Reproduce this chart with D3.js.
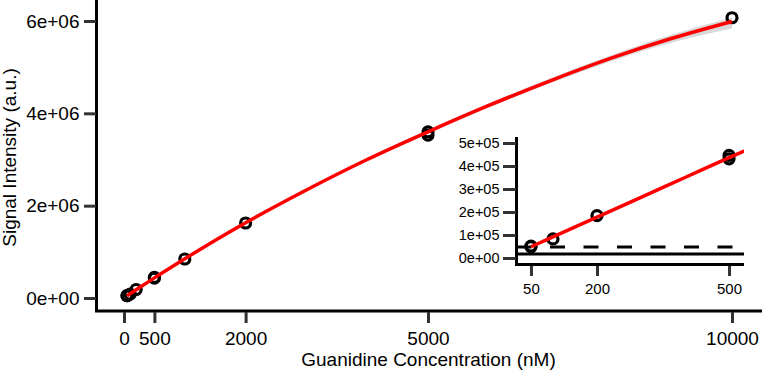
<!DOCTYPE html>
<html>
<head>
<meta charset="utf-8">
<script src="https://cdn.jsdelivr.net/npm/d3@7"></script>
<style>
body { margin: 0; background: #fff; }
text { font-family: "Liberation Sans", Arial, sans-serif; fill: #000; }
</style>
</head>
<body>
<div id="chart"></div>
<script>
// measured points (nM, a.u.)
const concX = [50, 50, 100, 200, 500, 500, 1000, 2000, 5000, 5000, 10000];
const signalY = [52000, 49000, 83000, 184000, 446000, 431000, 845000, 1625000, 3600000, 3530000, 6070000];

// fitted curve and its confidence band
const fitX = [50, 100, 200, 300, 400, 500, 600, 1000, 2000, 3000, 4000, 5000, 6000, 7000, 8000, 9000, 10000];
const fitY = [49000, 92000, 178000, 264000, 350000, 436000, 520000, 850000, 1630000, 2340000, 3000000, 3600000, 4170000, 4700000, 5190000, 5620000, 5990000];
const bandHi = [54000, 97000, 183000, 269000, 356000, 442000, 527000, 860000, 1650000, 2370000, 3035000, 3640000, 4215000, 4755000, 5255000, 5700000, 6075000];
const bandLo = [44000, 87000, 173000, 259000, 344000, 430000, 513000, 840000, 1610000, 2310000, 2965000, 3560000, 4125000, 4645000, 5125000, 5530000, 5840000];

const mainXTicks = [0, 500, 2000, 5000, 10000];
const mainYTicks = [0, 2e6, 4e6, 6e6];
const mainYLabels = ["0e+00", "2e+06", "4e+06", "6e+06"];

const insetXTicks = [50, 200, 500];
const insetYTicks = [0, 1e5, 2e5, 3e5, 4e5, 5e5];
const insetYLabels = ["0e+00", "1e+05", "2e+05", "3e+05", "4e+05", "5e+05"];
const blankLevel = 17000;
const lodLevel = 48000;

const width = 762, height = 371;

const svg = d3.select("#chart")
	.append("svg")
	.attr("width", width)
	.attr("height", height);

// ---- main panel ----
const x = d3.scaleLinear().domain([0, 10000]).range([124, 732]);
const y = d3.scaleLinear().domain([0, 6e6]).range([298, 21]);
const plot = {left: 96.5, right: 762, top: 0, bottom: 311};

const styleAxis = (g, size) => {
	g.select(".domain").remove();
	g.selectAll(".tick line").attr("stroke", "#333").attr("stroke-width", 3);
	g.selectAll(".tick text").attr("font-size", size).attr("font-family", "Liberation Sans, Arial, sans-serif").attr("fill", "#000");
};

const band = d3.area()
	.x((d, i) => x(fitX[i]))
	.y0((d, i) => y(bandLo[i]))
	.y1((d, i) => y(bandHi[i]))
	.curve(d3.curveMonotoneX);

svg.append("path")
	.datum(fitX)
	.attr("d", band)
	.attr("fill", "#d9d9d9");

svg.append("g")
	.selectAll("circle")
	.data(concX)
	.enter().append("circle")
	.attr("cx", (d, i) => x(d))
	.attr("cy", (d, i) => y(signalY[i]))
	.attr("r", 5)
	.attr("fill", "none")
	.attr("stroke", "#000")
	.attr("stroke-width", 3.2);

const line = d3.line()
	.x((d, i) => x(fitX[i]))
	.y((d, i) => y(fitY[i]))
	.curve(d3.curveMonotoneX);

svg.append("path")
	.datum(fitX)
	.attr("d", line)
	.attr("fill", "none")
	.attr("stroke", "#ff0000")
	.attr("stroke-width", 3.5);

svg.append("path")
	.attr("d", `M${plot.left},${plot.top}V${plot.bottom}H${plot.right}`)
	.attr("fill", "none")
	.attr("stroke", "#000")
	.attr("stroke-width", 3);

svg.append("g")
	.attr("transform", `translate(${plot.left - 0.5},0)`)
	.call(d3.axisLeft(y).tickValues(mainYTicks).tickFormat((d, i) => mainYLabels[i]).tickSize(12).tickPadding(4.5))
	.call(g => styleAxis(g, 19));

svg.append("g")
	.attr("transform", `translate(0,${plot.bottom + 1})`)
	.call(d3.axisBottom(x).tickValues(mainXTicks).tickFormat(d => d).tickSize(11).tickPadding(8.5))
	.call(g => styleAxis(g, 19));

svg.append("text")
	.attr("x", 428.5)
	.attr("y", 366)
	.attr("text-anchor", "middle")
	.attr("font-size", 19)
	.text("Guanidine Concentration (nM)");

svg.append("text")
	.attr("transform", "rotate(-90)")
	.attr("x", -157.5)
	.attr("y", 16)
	.attr("text-anchor", "middle")
	.attr("font-size", 19)
	.text("Signal Intensity (a.u.)");

// ---- inset panel ----
const xi = d3.scaleLinear().domain([16, 534]).range([516, 744]);
const yi = d3.scaleLinear().domain([-26000, 526000]).range([264, 137]);
const inset = {left: 516.5, right: 744, top: 137, bottom: 264.5};

const insetG = svg.append("g");

insetG.append("clipPath")
	.attr("id", "inset-clip")
	.append("rect")
	.attr("x", inset.left)
	.attr("y", inset.top)
	.attr("width", inset.right - inset.left)
	.attr("height", inset.bottom - inset.top);

insetG.append("line")
	.attr("x1", inset.left).attr("x2", inset.right)
	.attr("y1", yi(blankLevel)).attr("y2", yi(blankLevel))
	.attr("stroke", "#000")
	.attr("stroke-width", 3);

insetG.append("line")
	.attr("x1", inset.left).attr("x2", inset.right)
	.attr("y1", yi(lodLevel)).attr("y2", yi(lodLevel))
	.attr("stroke", "#000")
	.attr("stroke-width", 3)
	.attr("stroke-dasharray", "15,18.5");

const insetIdx = concX.map((d, i) => i).filter(i => concX[i] <= 500);

insetG.append("g")
	.selectAll("circle")
	.data(insetIdx)
	.enter().append("circle")
	.attr("cx", i => xi(concX[i]))
	.attr("cy", i => yi(signalY[i]))
	.attr("r", 5)
	.attr("fill", "none")
	.attr("stroke", "#000")
	.attr("stroke-width", 3.2);

const insetFit = fitX.map((d, i) => i).filter(i => fitX[i] <= 1000);

insetG.append("path")
	.datum(insetFit)
	.attr("clip-path", "url(#inset-clip)")
	.attr("d", d3.line().x(i => xi(fitX[i])).y(i => yi(fitY[i])).curve(d3.curveMonotoneX))
	.attr("fill", "none")
	.attr("stroke", "#ff0000")
	.attr("stroke-width", 3.5);

insetG.append("path")
	.attr("d", `M${inset.left},${inset.top}V${inset.bottom}H${inset.right}`)
	.attr("fill", "none")
	.attr("stroke", "#000")
	.attr("stroke-width", 3);

insetG.append("g")
	.attr("transform", `translate(${inset.left - 0.5},0)`)
	.call(d3.axisLeft(yi).tickValues(insetYTicks).tickFormat((d, i) => insetYLabels[i]).tickSize(13).tickPadding(3.5))
	.call(g => styleAxis(g, 14.5));

insetG.append("g")
	.attr("transform", `translate(0,${inset.bottom + 1.5})`)
	.call(d3.axisBottom(xi).tickValues(insetXTicks).tickFormat(d => d).tickSize(10).tickPadding(7.5))
	.call(g => styleAxis(g, 15));
</script>
</body>
</html>
